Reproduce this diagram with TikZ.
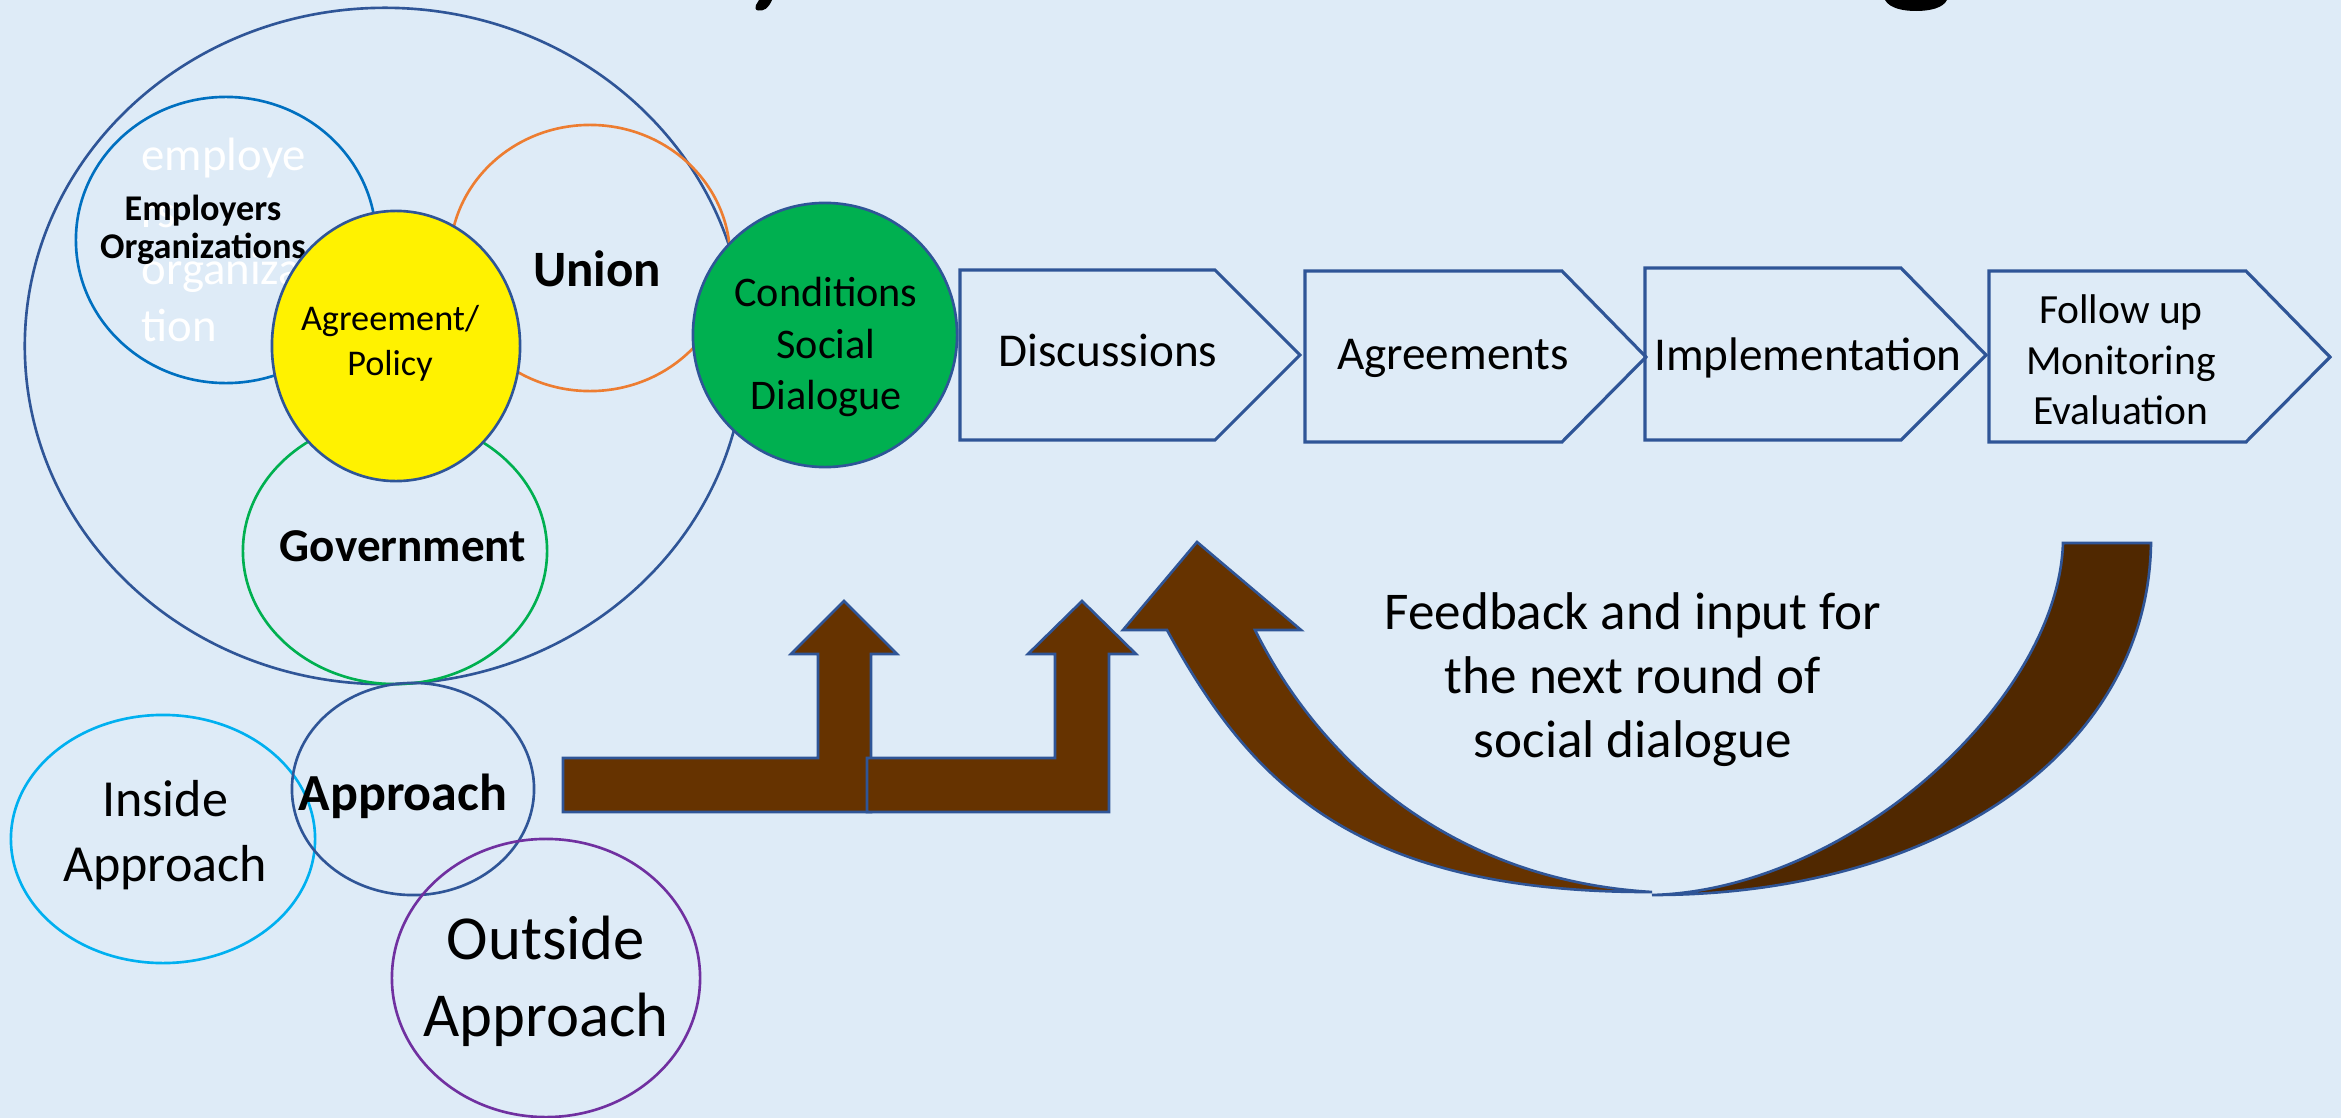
\documentclass[tikz,border=0pt]{standalone}
\usepackage{fontspec}
\setmainfont{Carlito}
\usepackage{xcolor}

\definecolor{backblue}{HTML}{DEEBF7}
\definecolor{navyline}{HTML}{2F5597}
\definecolor{emplblue}{HTML}{0070C0}
\definecolor{unionorange}{HTML}{ED7D31}
\definecolor{govgreen}{HTML}{00B050}
\definecolor{insidecyan}{HTML}{00B0F0}
\definecolor{outsidepurple}{HTML}{7030A0}
\definecolor{arrowbrown}{HTML}{663300}
\definecolor{backbrown}{HTML}{502800}

\tikzset{
  ring/.style={line width=0.75pt},
  chevron/.style={draw=navyline, line width=0.9pt, line join=miter},
  brownarrow/.style={fill=arrowbrown, draw=navyline, line width=0.75pt, line join=miter},
  steptext/.style={font=\fontsize{13.4}{16.3}\selectfont, align=center, inner sep=0pt},
  bigword/.style={font=\bfseries\fontsize{14.5}{17}\selectfont, inner sep=0pt},
}

\begin{document}
\begin{tikzpicture}[x=0.01cm, y=-0.01cm]
                \fill[backblue] (0,0) rectangle (2341,1118);
                \useasboundingbox (0,0) rectangle (2341,1118);

                \fill[black] (759,0) -- (772,0) .. controls (768,9) and (764,11) .. (758,10.5)
                    .. controls (755,10) and (755,7) .. (756,5) -- cycle;
                \fill[black] (1885,0) .. controls (1890,9) and (1905,11) .. (1916,11)
                    .. controls (1930,11) and (1943,8) .. (1947,0) -- cycle;

                \draw[navyline, ring] (385,346) ellipse (3.60cm and 3.38cm);
                \draw[emplblue, ring] (226,240) ellipse (1.50cm and 1.43cm);
                \draw[unionorange, ring] (590,258) ellipse (1.40cm and 1.33cm);
                \draw[govgreen, ring] (395,551) ellipse (1.52cm and 1.33cm);

                \node[white, font=\fontsize{13.3}{16.2}\selectfont, align=left, inner sep=0pt, anchor=north west]
                    (ghost) at (141,137) {employe\\rs\\organiza\\tion};
                \node[font=\bfseries\fontsize{10.3}{11}\selectfont, align=center, inner sep=0pt]
                    (employers) at (203,230) {Employers\\Organizations};
                \node[bigword] (union) at (597,269) {Union};
                \node[bigword, font=\bfseries\fontsize{13.4}{16}\selectfont] (government) at (403,546) {Government};

                \filldraw[fill=yellow, draw=navyline, ring] (396,346) ellipse (1.24cm and 1.35cm);
                \node[font=\fontsize{10.3}{12.8}\selectfont, align=center, inner sep=0pt]
                    (policy) at (390,343) {Agreement/\\Policy};

                \filldraw[fill=govgreen, draw=navyline, ring] (825,335) ellipse (1.32cm and 1.32cm);
                \node[steptext, font=\fontsize{12}{14.6}\selectfont] (conditions) at (826,347) {Conditions\\Social\\Dialogue};

                \draw[chevron] (960,270) -- (1215,270) -- (1300,355) -- (1215,440) -- (960,440) -- cycle;
                \draw[chevron] (1305,271) -- (1562,271) -- (1646,357) -- (1562,442) -- (1305,442) -- cycle;
                \draw[chevron] (1645,268) -- (1901,268) -- (1986,355) -- (1901,440) -- (1645,440) -- cycle;
                \draw[chevron] (1989,271) -- (2246,271) -- (2330,357) -- (2246,442) -- (1989,442) -- cycle;

                \node[steptext] (discussions) at (1108,350) {Discussions};
                \node[steptext] (agreements) at (1453,358) {Agreements};
                \node[steptext] (implementation) at (1808,358) {Implementation};
                \node[steptext, font=\fontsize{11.8}{14.4}\selectfont] (followup) at (2121,360) {Follow up\\Monitoring\\Evaluation};

                \draw[insidecyan, ring] (163,839) ellipse (1.52cm and 1.24cm);
                \draw[navyline, ring] (413,789) ellipse (1.21cm and 1.06cm);
                \draw[outsidepurple, ring] (546,978) ellipse (1.54cm and 1.39cm);

                \node[font=\fontsize{14.8}{18.5}\selectfont, align=center, inner sep=0pt] (inside) at (165,835) {Inside\\Approach};
                \node[bigword, font=\bfseries\fontsize{14.8}{18}\selectfont] (approach) at (403,796) {Approach};
                \node[font=\fontsize{17.8}{22}\selectfont, align=center, inner sep=0pt] (outside) at (546,981) {Outside\\Approach};

                \filldraw[brownarrow] (563,758) -- (818,758) -- (818,654) -- (791,654) -- (844,601)
                    -- (897,654) -- (871,654) -- (871,812) -- (563,812) -- cycle;
                \filldraw[brownarrow] (867,758) -- (1055,758) -- (1055,654) -- (1028,654) -- (1082,601)
                    -- (1136,654) -- (1109,654) -- (1109,812) -- (867,812) -- cycle;

                \filldraw[brownarrow, fill=backbrown] (2063,543) -- (2151,543)
                    .. controls (2148,750) and (1940,895) .. (1652,895)
                    .. controls (1850,890) and (2058,700) .. (2063,543) -- cycle;
                \filldraw[brownarrow] (1167,630) -- (1123,630) -- (1197,542) -- (1301,630) -- (1255,630)
                    .. controls (1320,760) and (1450,880) .. (1652,892)
                    .. controls (1352,893) and (1249,780) .. (1167,630) -- cycle;

                \node[font=\fontsize{15.1}{18.2}\selectfont, align=center, inner sep=0pt]
                    (feedback) at (1633,680) {Feedback and input for\\the next round of\\social dialogue};
            \end{tikzpicture}
\end{document}
